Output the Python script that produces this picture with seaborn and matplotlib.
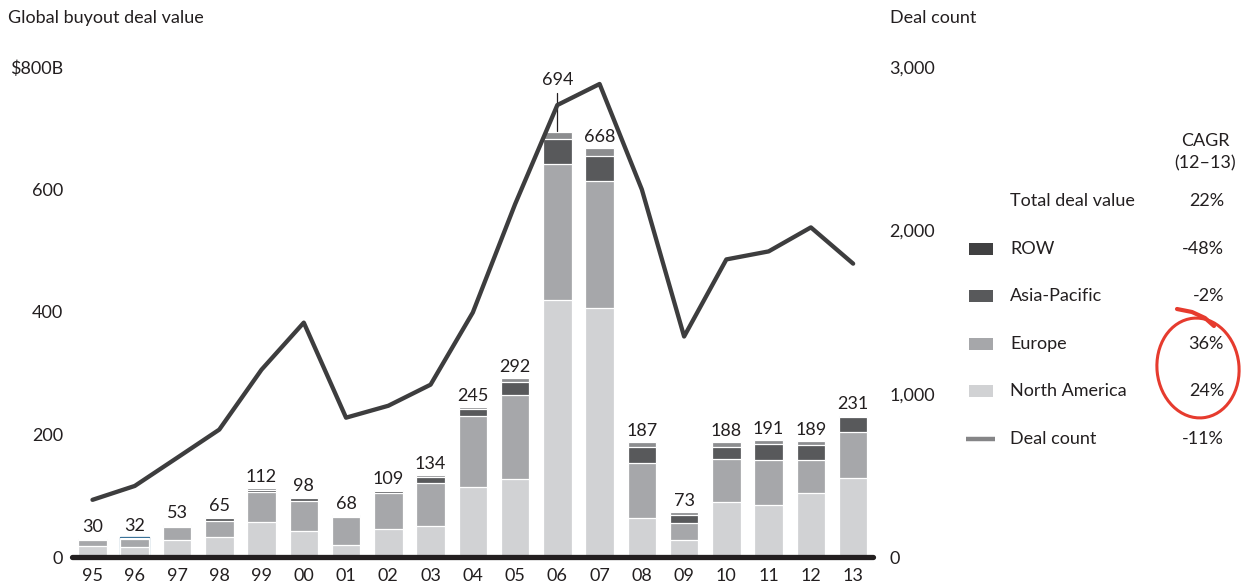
import numpy as np
import pandas as pd
import matplotlib
matplotlib.use("Agg")
import matplotlib.pyplot as plt
from matplotlib.patches import Rectangle, Ellipse
import seaborn as sns

# données (en $B et nombre de deals)
years = ["95", "96", "97", "98", "99", "00", "01", "02", "03", "04",
         "05", "06", "07", "08", "09", "10", "11", "12", "13"]
north_america = [18, 17, 27, 32, 57, 42, 19, 45, 51, 115, 128, 419, 406, 63, 28, 89, 85, 104, 129]
europe = [10, 12, 22, 27, 49, 49, 46, 59, 70, 115, 137, 222, 208, 90, 28, 71, 73, 55, 75]
asia_pacific = [1, 2, 2, 4, 4, 5, 2, 3, 9, 11, 20, 41, 40, 26, 12, 20, 26, 24.5, 24]
row = [1, 1, 2, 2, 2, 2, 1, 2, 4, 4, 7, 12, 14, 8, 5, 8, 7, 5.5, 3]
totals = [30, 32, 53, 65, 112, 98, 68, 109, 134, 245, 292, 694, 668, 187, 73, 188, 191, 189, 231]
deal_count = [350, 435, 607, 780, 1147, 1435, 853, 926, 1055, 1497, 2160,
              2767, 2896, 2250, 1350, 1822, 1871, 2018, 1796]

legend_labels = ["Total deal value", "ROW", "Asia-Pacific", "Europe", "North America", "Deal count"]
cagr_labels = ["22%", "-48%", "-2%", "36%", "24%", "-11%"]

TXT = "#231f20"
C_NA, C_EU, C_AP, C_ROW = "#d1d2d4", "#a6a7aa", "#58595b", "#8c8d8f"
C_LINE = "#3d3d3e"
RED = "#e63b2e"

sns.set_style("white")
plt.rcParams["font.family"] = ["Lato", "DejaVu Sans"]
plt.rcParams["font.size"] = 13
plt.rcParams["text.color"] = TXT

df = pd.DataFrame({"year": years, "na": north_america, "eu": europe,
                   "ap": asia_pacific, "row": row, "count": deal_count})
df["s_eu"] = df["na"] + df["eu"]
df["s_ap"] = df["s_eu"] + df["ap"]
df["s_row"] = df["s_ap"] + df["row"]

W, H = 1247, 588
fig = plt.figure(figsize=(W / 100, H / 100), dpi=100)
ax = fig.add_axes([72 / W, 31 / H, 801 / W, 490 / H])

# barres empilées : on superpose les cumuls
for col, color in [("s_row", C_ROW), ("s_ap", C_AP), ("s_eu", C_EU), ("na", C_NA)]:
    sns.barplot(data=df, x="year", y=col, color=color, saturation=1, width=0.675,
                edgecolor="white", linewidth=0.9, ax=ax)
# le petit trait bleu sur 96
ax.patches[1].set_facecolor("#1f5f8b")
ax.patches[1].set_edgecolor("#1f5f8b")

ax.axhline(0, color=TXT, lw=3.8, zorder=5, clip_on=False)
ax.set_ylim(0, 800)
ax.set_yticks([0, 200, 400, 600, 800])
ax.set_yticklabels(["0", "200", "400", "600", "$800B"])
ax.set_xlabel("")
ax.set_ylabel("")
ax.tick_params(axis="y", length=0, pad=6.5, labelcolor=TXT)
ax.tick_params(axis="x", length=0, pad=8, labelcolor=TXT)

for i, t in enumerate(totals):
    if years[i] == "06":
        ax.text(i, t + 76, str(t), ha="center", va="baseline")
        ax.plot([i, i], [t + 2, t + 64], color=TXT, lw=0.9)
    else:
        ax.text(i, t + 10, str(t), ha="center", va="baseline")

ax2 = ax.twinx()
sns.lineplot(x=np.arange(len(years)), y=deal_count, color=C_LINE, lw=3.1, ax=ax2)
ax2.set_ylim(0, 3000)
ax2.set_yticks([0, 1000, 2000, 3000])
ax2.set_yticklabels(["0", "1,000", "2,000", "3,000"])
ax2.tick_params(axis="y", length=0, pad=12, labelcolor=TXT)
ax2.set_ylabel("")
ax.set_xlim(-0.485, 18.47)
for a in (ax, ax2):
    for s in a.spines.values():
        s.set_visible(False)

# calque en pixels pour titres, légende et cercle
ov = fig.add_axes([0, 0, 1, 1])
ov.set_xlim(0, W)
ov.set_ylim(H, 0)
ov.axis("off")

ov.text(8, 18, "Global buyout deal value", ha="left", va="center")
ov.text(890, 18, "Deal count", ha="left", va="center")
ov.text(1205, 141, "CAGR", ha="center", va="center")
ov.text(1205, 163, "(12\u201313)", ha="center", va="center")

swatches = [None, "#404041", C_AP, C_EU, C_NA, "line"]
for k, (lab, val, sw) in enumerate(zip(legend_labels, cagr_labels, swatches)):
    y = 201 + k * 47.6
    ov.text(1010, y, lab, ha="left", va="center")
    ov.text(1224, y, val, ha="right", va="center")
    if sw == "line":
        ov.plot([966, 995], [y, y], color="#858587", lw=3.2, solid_capstyle="butt")
    elif sw is not None:
        ov.add_patch(Rectangle((969, y - 6), 24, 12, color=sw, lw=0))

# cercle rouge dessiné à la main
ov.add_patch(Ellipse((1198, 368), 82, 100, angle=-6, fill=False, edgecolor=RED, lw=2.2))
ov.plot([1177, 1192, 1205, 1214], [309, 312, 318, 326], color=RED, lw=3,
        solid_capstyle="round")

fig.savefig("out.png", dpi=100)
